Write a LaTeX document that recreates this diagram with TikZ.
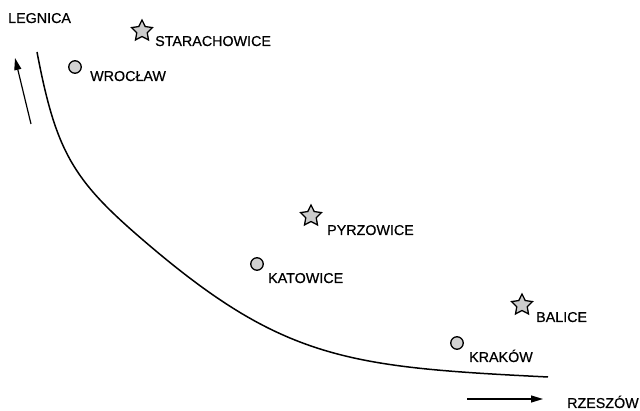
\documentclass[tikz,border=0pt]{standalone}
\usepackage{fontspec}
\setmainfont{Liberation Sans}
\newfontfamily\lblfont[FakeBold=0.6]{Liberation Sans}
\usetikzlibrary{shapes.geometric,arrows.meta}
\tikzset{
  lbl/.style={anchor=base west,inner sep=0pt,font=\lblfont\fontsize{14.3}{16}\selectfont},
  airport/.style={star,star points=5,star point ratio=2,minimum size=22pt,inner sep=0pt,draw,line width=1.3pt,fill=gray!40},
  city/.style={circle,minimum size=12.5pt,inner sep=0pt,draw,line width=1.3pt,fill=gray!35},
  dirarrow/.style={line width=1.2pt,-{Triangle[length=12pt,width=7pt]}},
  route/.style={line width=1.5pt}
}
\begin{document}
\begin{tikzpicture}[x=1pt,y=-1pt]
\useasboundingbox (0,0) rectangle (640,411);
% labels
\node[lbl] (legnica) at (8,23) {LEGNICA};
\node[lbl] (rzeszow) at (567,408) {RZESZÓW};
% airports (stars)
\node[airport] (sst) at (142,31) {};
\node[lbl] (starachowice) at (155,46) {STARACHOWICE};
\node[airport] (pst) at (311,216) {};
\node[lbl] (pyrzowice) at (327,235) {PYRZOWICE};
\node[airport] (bst) at (522,305) {};
\node[lbl] (balice) at (536,322) {BALICE};
% cities (circles)
\node[city] (wc) at (75,67) {};
\node[lbl] (wroclaw) at (90,81) {WROCŁAW};
\node[city] (kc) at (257,264) {};
\node[lbl] (katowice) at (268,283) {KATOWICE};
\node[city] (krc) at (457,343) {};
\node[lbl] (krakow) at (469,362) {KRAKÓW};
% route curve
\draw[route] (37,52) .. controls (56,152) and (73,180) .. (143,240)
  .. controls (283,360.4) and (348,367) .. (548,377);
% direction arrows
\coordinate (la1) at (31,124);
\coordinate (la2) at (15,58);
\coordinate (ba1) at (467,399);
\coordinate (ba2) at (543,399);
\draw[dirarrow] (la1) -- (la2);
\draw[dirarrow] (ba1) -- (ba2);
\end{tikzpicture}
\end{document}
